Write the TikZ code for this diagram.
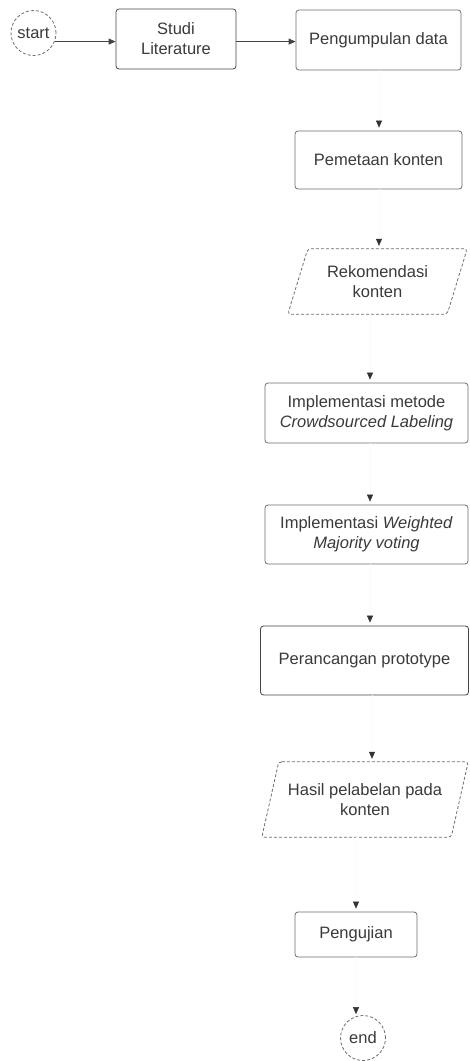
\documentclass[tikz,border=0pt]{standalone}
\usepackage{fontspec}
\setmainfont{Liberation Sans}
\usetikzlibrary{arrows.meta,calc}
\definecolor{txtc}{HTML}{3A3A3A}
\definecolor{bordc}{HTML}{6E6E6E}
\definecolor{darkbord}{HTML}{444444}
\definecolor{tipc}{HTML}{333333}
\definecolor{faintc}{HTML}{FAFAFA}
\begin{document}
\begin{tikzpicture}[x=1pt,y=-1pt,
  lbl/.style={text=txtc, align=center, inner sep=0pt, font=\fontsize{16.5}{20}\selectfont},
  procbox/.style={lbl, draw=bordc, line width=0.8pt, rounded corners=3pt},
  iobox/.style={lbl, draw=none},
  para/.style={draw=bordc, line width=0.8pt, rounded corners=3pt, dash pattern=on 3pt off 2pt},
  term/.style={lbl, circle, draw=bordc, line width=0.8pt, dash pattern=on 3pt off 2pt, minimum size=45pt},
  hconn/.style={draw=darkbord, line width=0.9pt, -{Triangle[length=7pt,width=6pt]}},
  vconn/.style={draw=faintc, line width=0.6pt, shorten >=3pt, -{Triangle[length=7pt,width=6pt,color=tipc]}}
]
\useasboundingbox (0,0) rectangle (469,1061);
\fill[white] (0,0) rectangle (469,1061);

\node[term] (start) at (33.5,33) {start};
\node[procbox, draw=darkbord, minimum width=120pt, minimum height=60pt] (studi) at (176,39) {Studi\\Literature};
\node[procbox, minimum width=165pt, minimum height=60pt] (kumpul) at (378.5,40) {Pengumpulan data};
\node[procbox, minimum width=167pt, minimum height=58pt] (petakan) at (378.5,160) {Pemetaan konten};
\node[iobox, minimum width=179pt, minimum height=65pt] (rekom) at (377.5,281.5) {Rekomendasi\\konten};
\node[procbox, minimum width=203pt, minimum height=60pt] (impl1) at (366.5,413) {Implementasi metode\\\textit{Crowdsourced Labeling}};
\node[procbox, minimum width=203pt, minimum height=59pt] (impl2) at (366.5,534.5) {Implementasi \textit{Weighted}\\\textit{Majority voting}};
\node[procbox, draw=darkbord, minimum width=208pt, minimum height=69pt] (rancang) at (364.5,660.5) {Perancangan prototype};
\node[iobox, minimum width=206pt, minimum height=75pt] (hasil) at (365,799.5) {Hasil pelabelan pada\\konten};
\node[procbox, minimum width=122pt, minimum height=45pt] (uji) at (356,934.5) {Pengujian};
\node[term] (finish) at (363,1038) {end};

% parallelogram outlines
\draw[para] ($(rekom.north west)+(20,0)$) -- (rekom.north east) -- ($(rekom.south east)-(20,0)$) -- (rekom.south west) -- cycle;
\draw[para] ($(hasil.north west)+(17,0)$) -- (hasil.north east) -- ($(hasil.south east)-(17,0)$) -- (hasil.south west) -- cycle;

% column coordinates for vertical connectors
\coordinate (colA) at (379,0);
\coordinate (colB) at (370,0);
\coordinate (colC) at (372,0);
\coordinate (colD) at (356,0);

% horizontal connectors
\draw[hconn] (start.-22) -- (studi.west |- start.-22);
\draw[hconn] (studi.east |- start.-22) -- (kumpul.west |- start.-22);

% vertical connectors
\draw[vconn] (kumpul.south -| colA) -- (petakan.north -| colA);
\draw[vconn] (petakan.south -| colA) -- (rekom.north -| colA);
\draw[vconn] (rekom.south -| colB) -- (impl1.north -| colB);
\draw[vconn] (impl1.south -| colB) -- (impl2.north -| colB);
\draw[vconn] (impl2.south -| colB) -- (rancang.north -| colB);
\draw[vconn] (rancang.south -| colC) -- (hasil.north -| colC);
\draw[vconn] (hasil.south -| colD) -- (uji.north -| colD);
\draw[vconn] (uji.south -| colD) -- ($(finish.north -| colD)+(0,2)$);
\end{tikzpicture}
\end{document}
